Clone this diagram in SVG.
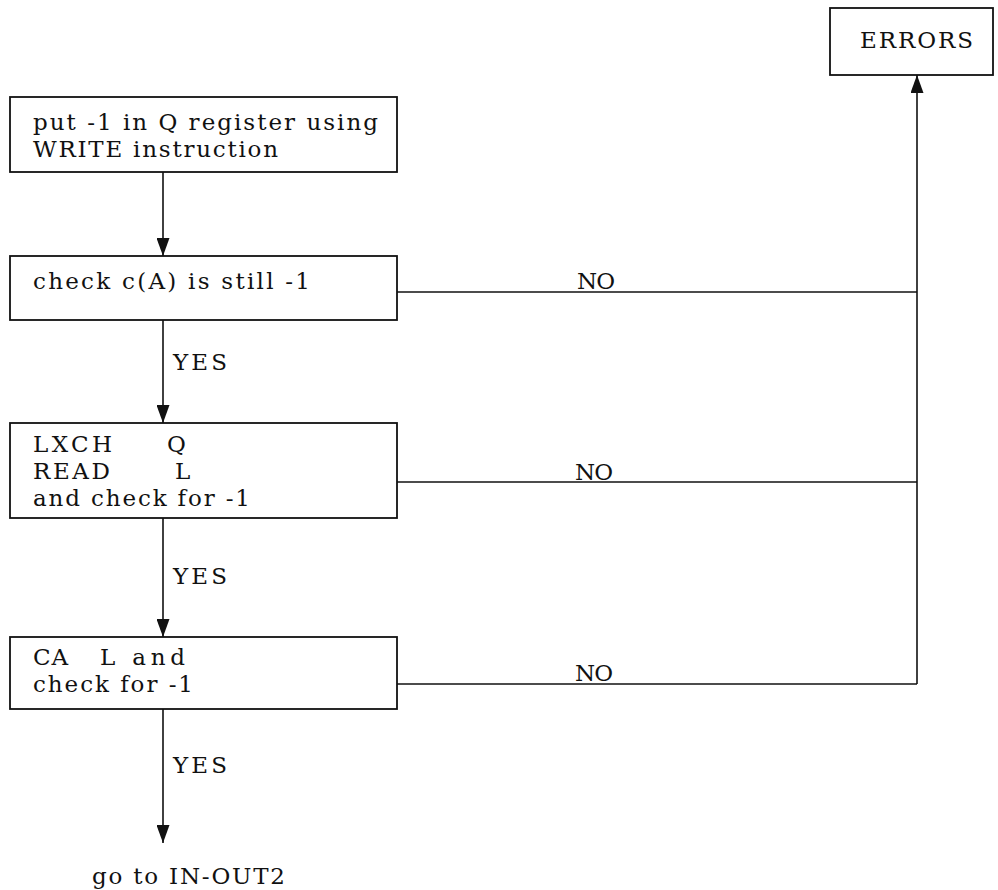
<svg xmlns="http://www.w3.org/2000/svg" width="998" height="890" viewBox="0 0 998 890">
<defs>
<style>
.box{fill:#fff;stroke:#111;stroke-width:1.8}
.ln{fill:none;stroke:#111;stroke-width:1.6}
text{font-family:"DejaVu Serif","Liberation Serif",serif;font-size:23px;fill:#111}
</style>
<marker id="ah" markerWidth="18" markerHeight="13" refX="18" refY="6.5" orient="auto" markerUnits="userSpaceOnUse" viewBox="0 0 18 13">
<path d="M0,0 L18,6.5 L0,13 Z" fill="#111"/>
</marker>
</defs>
<rect width="998" height="890" fill="#fff"/>
<g id="errors">
<rect class="box" x="830" y="8" width="163" height="67"/>
<text x="860" y="48" textLength="113" lengthAdjust="spacing">ERRORS</text>
</g>
<g id="n1">
<rect class="box" x="10" y="97" width="387" height="75"/>
<text x="33" y="130" textLength="345" lengthAdjust="spacing">put -1 in Q register using</text>
<text x="33" y="157" textLength="245" lengthAdjust="spacing">WRITE instruction</text>
</g>
<g id="n2">
<rect class="box" x="10" y="256" width="387" height="64"/>
<text x="33" y="289" textLength="277" lengthAdjust="spacing">check c(A) is still -1</text>
</g>
<g id="n3">
<rect class="box" x="10" y="423" width="387" height="95"/>
<text x="33" y="452" textLength="79" lengthAdjust="spacing">LXCH</text>
<text x="167" y="452">Q</text>
<text x="33" y="479" textLength="77" lengthAdjust="spacing">READ</text>
<text x="175" y="479">L</text>
<text x="33" y="506" textLength="217" lengthAdjust="spacing">and check for -1</text>
</g>
<g id="n4">
<rect class="box" x="10" y="637" width="387" height="72"/>
<text x="33" y="665" textLength="35" lengthAdjust="spacing">CA</text>
<text x="100" y="665" textLength="85" lengthAdjust="spacing">L and</text>
<text x="33" y="692" textLength="160" lengthAdjust="spacing">check for -1</text>
</g>
<g id="end">
<text x="92" y="884" textLength="193" lengthAdjust="spacing">go to IN-OUT2</text>
</g>
<g id="connectors">
<line class="ln" x1="163" y1="172" x2="163" y2="256" marker-end="url(#ah)"/>
<line class="ln" x1="163" y1="320" x2="163" y2="423" marker-end="url(#ah)"/>
<line class="ln" x1="163" y1="518" x2="163" y2="637" marker-end="url(#ah)"/>
<line class="ln" x1="163" y1="709" x2="163" y2="843" marker-end="url(#ah)"/>
<line class="ln" x1="397" y1="292" x2="917" y2="292"/>
<line class="ln" x1="397" y1="482" x2="917" y2="482"/>
<line class="ln" x1="397" y1="684" x2="917" y2="684"/>
<line class="ln" x1="917" y1="684" x2="917" y2="75" marker-end="url(#ah)"/>
<text x="173" y="370" textLength="54" lengthAdjust="spacing">YES</text>
<text x="173" y="584" textLength="54" lengthAdjust="spacing">YES</text>
<text x="173" y="773" textLength="54" lengthAdjust="spacing">YES</text>
<text x="577" y="289" textLength="38" lengthAdjust="spacing">NO</text>
<text x="575" y="480" textLength="38" lengthAdjust="spacing">NO</text>
<text x="575" y="681" textLength="38" lengthAdjust="spacing">NO</text>
</g>
</svg>
